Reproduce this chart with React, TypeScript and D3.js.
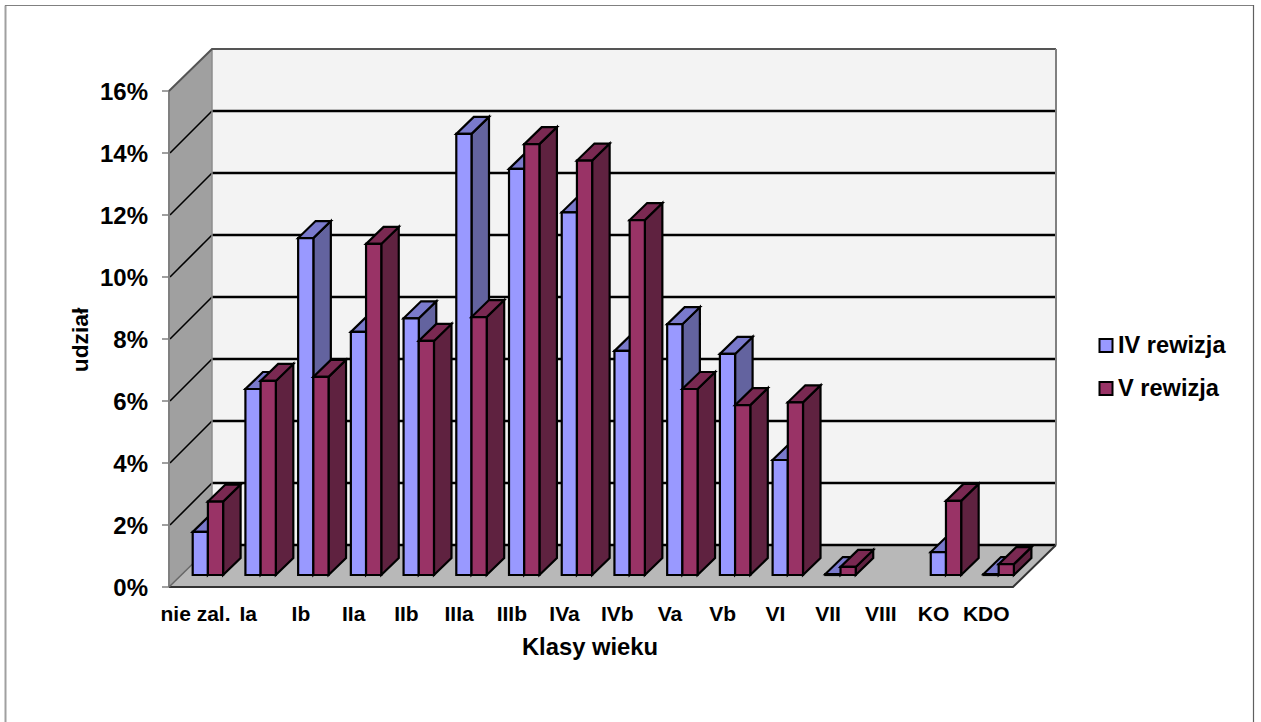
import React from "react";
import * as d3 from "d3";

const categories = ["nie zal.", "Ia", "Ib", "IIa", "IIb", "IIIa", "IIIb", "IVa", "IVb", "Va", "Vb", "VI", "VII", "VIII", "KO", "KDO"];
const rewizjaIV = [1.39, 6.0, 10.87, 7.84, 8.28, 14.23, 13.1, 11.7, 7.23, 8.09, 7.13, 3.71, 0.03, 0, 0.74, 0.03];
const rewizjaV = [2.37, 6.26, 6.39, 10.68, 7.55, 8.32, 13.9, 13.37, 11.45, 6.0, 5.48, 5.57, 0.26, 0, 2.39, 0.35];
const yTicks = [0, 2, 4, 6, 8, 10, 12, 14, 16];
const seriesNames = ["IV rewizja", "V rewizja"];
const fronts = ["#9999ff", "#993366"];
const tops = ["#7a7acc", "#7a2952"];
const sides = ["#63639f", "#5f2240"];

const FONT = "'Liberation Sans', Arial, sans-serif";
const W = 1261, H = 722;
const x0 = 169, x1 = 1013;
const wallDx = 43, wallDy = -42;
const y = d3.scaleLinear().domain([0, 16]).range([587, 91]);
const xCat = d3.scaleLinear().domain([0, 16]).range([x0, x1 - 0.5]);
const groupOffset = 23.7, barW = 15.2, barDx = 17.5, barDy = -17, baseUp = 12;

const poly = (pts: [number, number][]) => {
  const p = d3.path();
  pts.forEach((q, i) => (i ? p.lineTo(q[0], q[1]) : p.moveTo(q[0], q[1])));
  p.closePath();
  return p.toString();
};

function Bar({ cat, s, v }: { cat: number; s: number; v: number }) {
  const l = xCat(cat) + groupOffset + s * barW;
  const r = l + barW;
  const b = y(0) - baseUp;
  const t = y(v) - baseUp;
  return (
    <g stroke="#000" strokeWidth={2.2} strokeLinejoin="miter">
      <path d={poly([[r, b], [r + barDx, b + barDy], [r + barDx, t + barDy], [r, t]])} fill={sides[s]} />
      <path d={poly([[l, t], [r, t], [r + barDx, t + barDy], [l + barDx, t + barDy]])} fill={tops[s]} />
      <path d={poly([[l, b], [r, b], [r, t], [l, t]])} fill={fronts[s]} />
    </g>
  );
}

export default function App() {
  const series = [rewizjaIV, rewizjaV];
  const topY = y(16);
  const botY = y(0);
  return (
    <svg width={W} height={H} viewBox={`0 0 ${W} ${H}`} style={{ position: "absolute", left: 0, top: 0, background: "#fff" }} fontFamily={FONT}>
      {/* frame: open at the bottom */}
      <path d={`M5.5,${H}L5.5,5.5`} stroke="#a0a0a0" strokeWidth={2} fill="none" />
      <path d={`M5,5.5L1253,5.5`} stroke="#808080" strokeWidth={1.2} fill="none" />
      <path d={`M1253.5,5L1253.5,${H}`} stroke="#606060" strokeWidth={1.2} fill="none" />
      {/* back wall */}
      <path d={poly([[x0 + wallDx, topY + wallDy], [x1 + wallDx, topY + wallDy], [x1 + wallDx, botY + wallDy], [x0 + wallDx, botY + wallDy]])} fill="#f3f3f3" />
      {/* side wall */}
      <path d={poly([[x0, topY], [x0 + wallDx, topY + wallDy], [x0 + wallDx, botY + wallDy], [x0, botY]])} fill="#a0a0a0" />
      {/* floor */}
      <path d={poly([[x0, botY], [x1, botY], [x1 + wallDx, botY + wallDy], [x0 + wallDx, botY + wallDy]])} fill="#b8b8b8" />
      {/* gridlines */}
      {yTicks.map((t) => (
        <g key={t}>
          {t > 0 && t < 16 && (
            <path d={`M${x0 + 1},${y(t)}L${x0 + wallDx},${y(t) + wallDy}`} stroke="#000" strokeWidth={1.6} fill="none" />
          )}
          {t < 16 && (
            <line x1={x0 + wallDx} x2={x1 + wallDx} y1={y(t) + wallDy} y2={y(t) + wallDy} stroke="#000" strokeWidth={2.4} />
          )}
          <line x1={x0 - 7} x2={x0} y1={y(t)} y2={y(t)} stroke="#808080" strokeWidth={1.5} />
          <text x={148} y={y(t) + 8.5} textAnchor="end" fontSize={24} fontWeight="700" fill="#000">{t}%</text>
        </g>
      ))}
      {/* wall edges */}
      <path d={`M${x0},${botY}L${x0},${topY}`} stroke="#808080" strokeWidth={2} fill="none" />
      <path d={`M${x0 + wallDx},${botY + wallDy}L${x0 + wallDx},${topY + wallDy}`} stroke="#8c8c8c" strokeWidth={1.5} fill="none" />
      <path d={`M${x0},${topY}L${x0 + wallDx},${topY + wallDy}L${x1 + wallDx},${topY + wallDy}`} stroke="#555" strokeWidth={2} fill="none" />
      <path d={`M${x1 + wallDx},${topY + wallDy}L${x1 + wallDx},${botY + wallDy}`} stroke="#808080" strokeWidth={2} fill="none" />
      <path d={`M${x0},${botY}L${x1},${botY}L${x1 + wallDx},${botY + wallDy}`} stroke="#333" strokeWidth={2} fill="none" />
      <path d={`M${x0},${botY}L${x0 + wallDx},${botY + wallDy}`} stroke="#666" strokeWidth={1.5} fill="none" />
      {/* bars */}
      {categories.map((c, i) =>
        series.map((vals, s) => (vals[i] > 0 ? <Bar key={c + s} cat={i} s={s} v={vals[i]} /> : null))
      )}
      {/* category labels */}
      {categories.map((c, i) => (
        <text key={c} x={xCat(i) + 26.5} y={621} textAnchor="middle" fontSize={21} fontWeight="700" fill="#000">{c}</text>
      ))}
      <text x={590} y={655} textAnchor="middle" fontSize={23.8} fontWeight="700">Klasy wieku</text>
      <text transform="translate(88,340) rotate(-90)" textAnchor="middle" fontSize={22.8} fontWeight="700">udział</text>
      {/* legend */}
      {seriesNames.map((n, i) => (
        <g key={n}>
          <rect x={1099.5} y={339 + i * 43} width={13} height={13} fill={fronts[i]} stroke="#000" strokeWidth={2} />
          <text x={1118} y={353 + i * 43} fontSize={23.6} fontWeight="700">{n}</text>
        </g>
      ))}
    </svg>
  );
}
